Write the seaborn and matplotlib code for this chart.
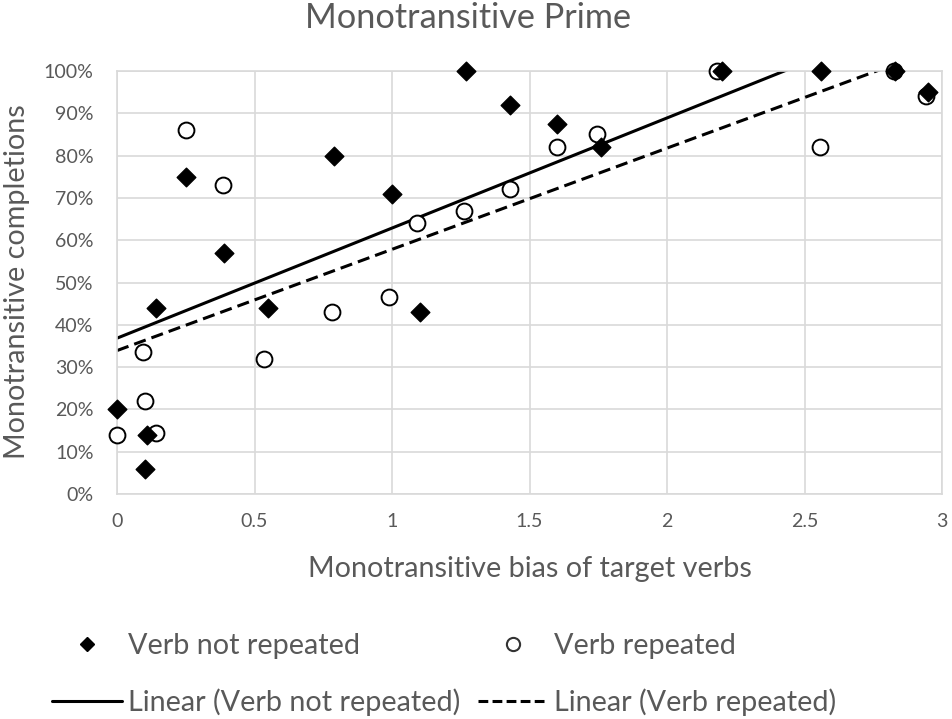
import matplotlib
matplotlib.use("Agg")
import matplotlib.pyplot as plt
from matplotlib.lines import Line2D
import seaborn as sns

# ---------------- data ----------------
title = "Monotransitive Prime"
x_label = "Monotransitive bias of target verbs"
y_label = "Monotransitive completions"

bias_not_repeated = [0.0, 0.10, 0.11, 0.14, 0.25, 0.39, 0.55, 0.79, 1.00, 1.10,
                     1.27, 1.43, 1.60, 1.76, 2.20, 2.56, 2.83, 2.95]
completion_not_repeated = [20, 6, 14, 44, 75, 57, 44, 80, 71, 43,
                           100, 92, 87.5, 82, 100, 100, 100, 95]

bias_repeated = [0.0, 0.095, 0.10, 0.14, 0.25, 0.385, 0.535, 0.78, 0.99, 1.09,
                 1.26, 1.43, 1.60, 1.745, 2.18, 2.555, 2.825, 2.94]
completion_repeated = [14, 33.5, 22, 14.5, 86, 73, 32, 43, 46.5, 64,
                       67, 72, 82, 85, 100, 82, 100, 94]

x_ticks = [0, 0.5, 1, 1.5, 2, 2.5, 3]
x_tick_labels = ["0", "0.5", "1", "1.5", "2", "2.5", "3"]
y_ticks = [0, 10, 20, 30, 40, 50, 60, 70, 80, 90, 100]
y_tick_labels = ["0%", "10%", "20%", "30%", "40%", "50%", "60%", "70%", "80%", "90%", "100%"]

legend_labels = ["Verb not repeated", "Verb repeated",
                 "Linear (Verb not repeated)", "Linear (Verb repeated)"]

# ---------------- style ----------------
sns.set_theme(style="white")
plt.rcParams["font.family"] = ["Lato", "DejaVu Sans"]
TEXT = "#595959"
GRID = "#d9d9d9"

W, H = 952, 719
fig = plt.figure(figsize=(W / 100, H / 100), dpi=100)
fig.canvas.draw()
renderer = fig.canvas.get_renderer()


def fitted_size(text, target_px, base=20.0):
    t = fig.text(0, 0, text, fontsize=base)
    w = t.get_window_extent(renderer=renderer).width
    t.remove()
    return base * target_px / w


fs_title = fitted_size(title, 327)
fs_xlabel = fitted_size(x_label, 445)
fs_ylabel = fitted_size(y_label, 354)
fs_tick = fitted_size("100%", 50)
fs_leg = fitted_size(legend_labels[0], 232)

ax = fig.add_axes([117 / W, 1 - 494 / H, 825 / W, 423 / H])
ax.set_xlim(0, 3)
ax.set_ylim(0, 100)

# trend lines (library regression)
sns.regplot(x=bias_not_repeated, y=completion_not_repeated, ax=ax, scatter=False,
            ci=None, truncate=False, line_kws=dict(color="black", lw=2.2, zorder=2))
sns.regplot(x=bias_repeated, y=completion_repeated, ax=ax, scatter=False,
            ci=None, truncate=False,
            line_kws=dict(color="black", lw=2.2, dashes=(4, 2), zorder=2))

# points
sns.scatterplot(x=bias_repeated, y=completion_repeated, ax=ax, marker="o", s=130,
                color="white", edgecolor="black", linewidth=1.4, clip_on=False,
                zorder=3, legend=False)
sns.scatterplot(x=bias_not_repeated, y=completion_not_repeated, ax=ax, marker="D",
                s=90, color="black", edgecolor="black", linewidth=1, clip_on=False,
                zorder=4, legend=False)

ax.set_xlim(0, 3)
ax.set_ylim(0, 100)
ax.set_xticks(x_ticks)
ax.set_xticklabels(x_tick_labels)
ax.set_yticks(y_ticks)
ax.set_yticklabels(y_tick_labels)
ax.set_xlabel("")
ax.set_ylabel("")
ax.tick_params(axis="both", length=0, labelsize=fs_tick, labelcolor=TEXT)
ax.tick_params(axis="x", pad=14)
ax.tick_params(axis="y", pad=17)
ax.grid(True, color=GRID, lw=1.2)
ax.set_axisbelow(True)
for sp in ax.spines.values():
    sp.set_color(GRID)
    sp.set_linewidth(1.2)

# texts
fig.text(468.5 / W, 1 - 28 / H, title, fontsize=fs_title, color=TEXT,
         ha="center", va="baseline")
fig.text(529.5 / W, 1 - 577 / H, x_label, fontsize=fs_xlabel, color=TEXT,
         ha="center", va="baseline")
fig.text(17 / W, 1 - 282 / H, y_label, fontsize=fs_ylabel, color=TEXT,
         ha="center", va="center", rotation=90)

# legend: 2x2 grid, four single-entry legends
fs_px = fs_leg * 100 / 72
handles = [
    Line2D([], [], ls="none", marker="D", ms=7.5, color="black"),
    Line2D([], [], ls="none", marker="o", ms=9.5, mfc="white", mec="#333333", mew=1.5),
    Line2D([], [], color="black", lw=2.2),
    Line2D([], [], color="black", lw=2.2, dashes=(3.2, 1.4)),
]
anchors = [(52, 646), (478, 646), (52, 702), (478, 702)]
for h, lab, (px, py) in zip(handles, legend_labels, anchors):
    leg = fig.legend(handles=[h], labels=[lab], loc="center left",
                     bbox_to_anchor=(px / W, 1 - py / H), frameon=False,
                     borderpad=0, borderaxespad=0, fontsize=fs_leg,
                     handlelength=70 / fs_px, handletextpad=6 / fs_px,
                     labelcolor=TEXT)

fig.savefig("out.png", dpi=100)
